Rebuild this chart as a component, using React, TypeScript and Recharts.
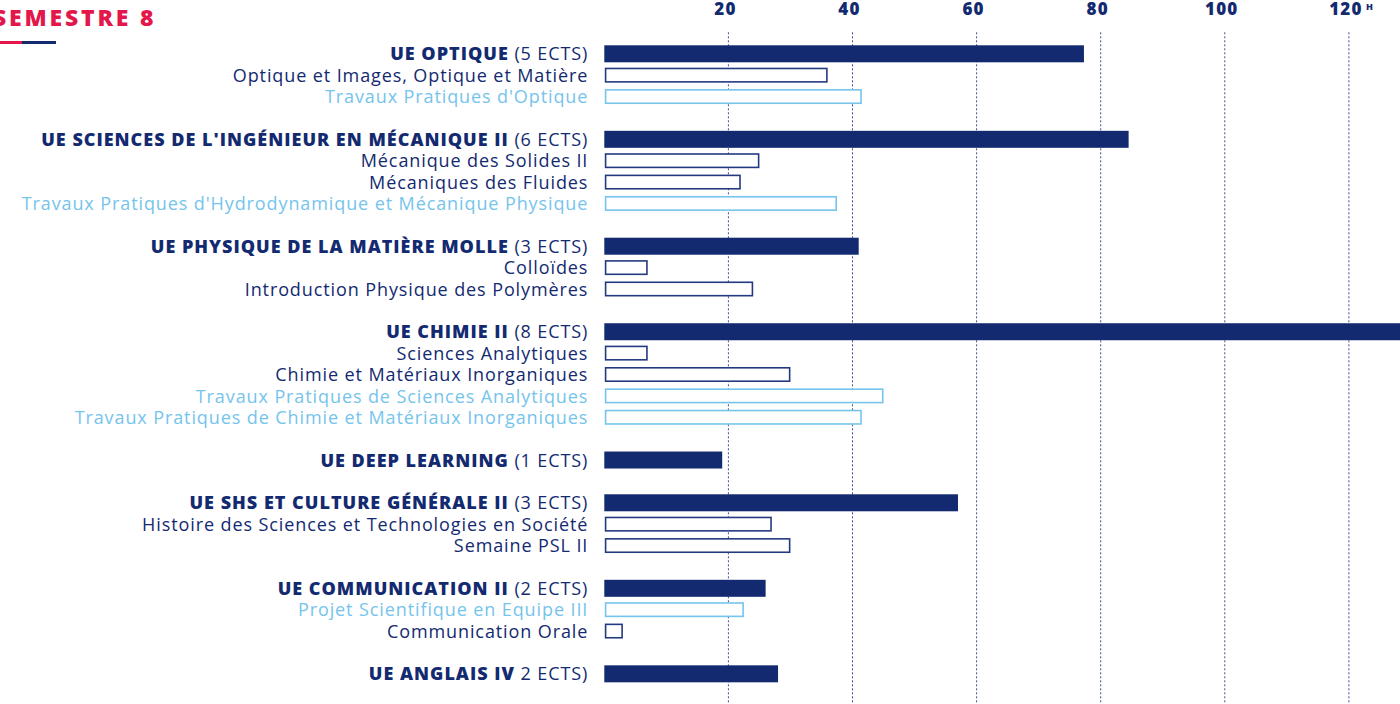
import React from 'react';
import { BarChart, Bar, XAxis, YAxis, CartesianGrid } from 'recharts';

// Semestre 8 : volume horaire par UE et par enseignement
const rowLabels = [
  'UE OPTIQUE',
  'Optique et Images, Optique et Matière',
  "Travaux Pratiques d'Optique",
  '',
  "UE SCIENCES DE L'INGÉNIEUR EN MÉCANIQUE II",
  'Mécanique des Solides II',
  'Mécaniques des Fluides',
  "Travaux Pratiques d'Hydrodynamique et Mécanique Physique",
  '',
  'UE PHYSIQUE DE LA MATIÈRE MOLLE',
  'Colloïdes',
  'Introduction Physique des Polymères',
  '',
  'UE CHIMIE II',
  'Sciences Analytiques',
  'Chimie et Matériaux Inorganiques',
  'Travaux Pratiques de Sciences Analytiques',
  'Travaux Pratiques de Chimie et Matériaux Inorganiques',
  '',
  'UE DEEP LEARNING',
  '',
  'UE SHS ET CULTURE GÉNÉRALE II',
  'Histoire des Sciences et Technologies en Société',
  'Semaine PSL II',
  '',
  'UE COMMUNICATION II',
  'Projet Scientifique en Equipe III',
  'Communication Orale',
  '',
  'UE ANGLAIS IV',
];

const rowKinds = [
  'ue', 'cours', 'tp', 'gap',
  'ue', 'cours', 'cours', 'tp', 'gap',
  'ue', 'cours', 'cours', 'gap',
  'ue', 'cours', 'cours', 'tp', 'tp', 'gap',
  'ue', 'gap',
  'ue', 'cours', 'cours', 'gap',
  'ue', 'tp', 'cours', 'gap',
  'ue',
];

const rowHours: (number | null)[] = [
  77.3, 36, 41.5, null,
  84.5, 25, 22, 37.5, null,
  41, 7, 24, null,
  135, 7, 30, 45, 41.5, null,
  19, null,
  57, 27, 30, null,
  26, 22.5, 3, null,
  28,
];

const ueCredits = ['(5 ECTS)', '(6 ECTS)', '(3 ECTS)', '(8 ECTS)', '(1 ECTS)', '(3 ECTS)', '(2 ECTS)', '2 ECTS)'];

const hourTicks = [20, 40, 60, 80, 100, 120];

const NAVY = '#132a70';
const NAVY_LINE = '#243a80';
const SKY = '#76c4ec';
const RED = '#e3174c';
const FONT = '"Open Sans", Lato, sans-serif';

let ueIndex = 0;
const data = rowLabels.map((label, i) => ({
  id: `r${i}`,
  label,
  kind: rowKinds[i],
  credits: rowKinds[i] === 'ue' ? ueCredits[ueIndex++] : '',
  hours: rowHours[i],
}));

const CategoryTick = (props: any) => {
  const { x, y, payload } = props;
  const row = data[payload.index];
  if (!row || row.kind === 'gap') return null;
  if (row.kind === 'ue') {
    return (
      <text x={x} y={y} dy="0.36em" textAnchor="end" fontFamily={FONT} fontSize={18} fill={NAVY}>
        <tspan fontWeight={800} letterSpacing={1}>{row.label}</tspan>
        <tspan fontWeight={400} letterSpacing={0.9}> {row.credits}</tspan>
      </text>
    );
  }
  return (
    <text x={x} y={y} dy="0.36em" textAnchor="end" fontFamily={FONT} fontSize={18} letterSpacing={0.9}
      fill={row.kind === 'tp' ? SKY : NAVY}>
      {row.label}
    </text>
  );
};

const HourTick = (props: any) => {
  const { x, y, payload } = props;
  const isLast = payload.value === hourTicks[hourTicks.length - 1];
  return (
    <g>
      <text x={x - 3} y={y} textAnchor="middle" fontFamily={FONT} fontWeight={800} fontSize={17}
        letterSpacing={1.2} fill={NAVY}>
        {payload.value}
      </text>
      {isLast && (
        <text x={x + 17} y={y - 5} fontFamily={FONT} fontWeight={800} fontSize={9} fill={NAVY}>H</text>
      )}
    </g>
  );
};

const HourBar = (props: any) => {
  const { x, y, width, height, payload } = props;
  if (payload.hours == null || width <= 0) return null;
  if (payload.kind === 'ue') {
    return <rect x={x} y={y} width={width} height={height} fill={NAVY} />;
  }
  const sw = 1.6;
  return (
    <rect x={x + sw / 2 + 0.5} y={y + 1 + sw / 2} width={width - sw - 0.5} height={height - 2 - sw}
      fill="#ffffff" stroke={payload.kind === 'tp' ? SKY : NAVY_LINE} strokeWidth={sw} />
  );
};

const GridLine = (props: any) => {
  // pas de ligne sur l'origine de l'axe
  if (props.x1 < 610) return <g key={props.key ?? 'origin'} />;
  return (
    <line key={props.key ?? `${props.x1}`} x1={props.x1} x2={props.x2} y1={props.y1 - 11} y2={704}
      stroke="#3c4f92" strokeWidth={1} strokeDasharray="2 2" />
  );
};

export default function App() {
  return (
    <div style={{ position: 'fixed', left: 0, top: 0, width: 1400, height: 704, overflow: 'hidden', background: '#ffffff' }}>
      <div style={{ position: 'absolute', left: -7, top: 3, fontFamily: FONT, fontWeight: 800, fontSize: 23, letterSpacing: 2.8, color: RED, lineHeight: '28px' }}>
        SEMESTRE 8
      </div>
      <div style={{ position: 'absolute', left: 0, top: 41, width: 22, height: 3, background: RED }} />
      <div style={{ position: 'absolute', left: 22, top: 41, width: 34, height: 3, background: NAVY }} />
      <div style={{ position: 'absolute', left: 0, top: 0 }}>
        <BarChart width={1473} height={704} data={data} layout="vertical"
          margin={{ top: 0, right: 0, bottom: 19.3, left: 0 }} barSize={17}>
          <CartesianGrid horizontal={false} vertical={GridLine} />
          <XAxis type="number" orientation="top" domain={[0, 140]} ticks={hourTicks}
            axisLine={false} tickLine={false} tickSize={0} tickMargin={28.8} height={43.3}
            tick={<HourTick />} interval={0} />
          <YAxis type="category" dataKey="id" width={604.3} axisLine={false} tickLine={false}
            tickSize={0} tickMargin={16} tick={<CategoryTick />} interval={0} />
          <Bar dataKey="hours" isAnimationActive={false} shape={<HourBar />} />
        </BarChart>
      </div>
    </div>
  );
}
